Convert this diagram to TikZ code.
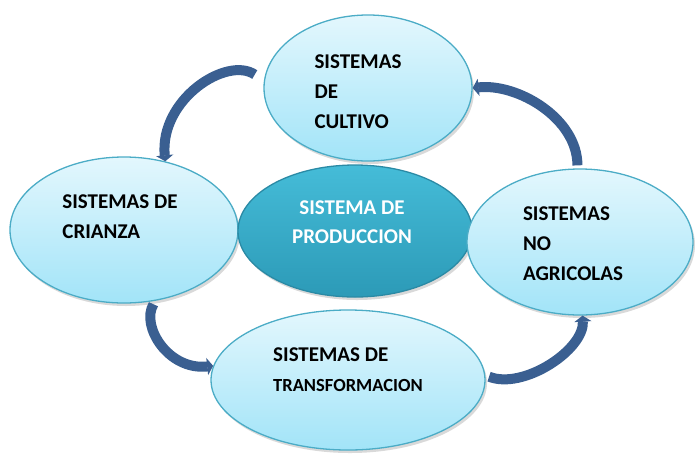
\documentclass[tikz,border=0pt]{standalone}
\usepackage{fontspec}
\setmainfont{Carlito}
\usetikzlibrary{shapes.geometric,arrows.meta,shadows}

\definecolor{cellfillA}{HTML}{E3F7FD}
\definecolor{cellfillB}{HTML}{A2E4F8}
\definecolor{celldraw}{HTML}{4BACC6}
\definecolor{hubfillA}{HTML}{45BCD8}
\definecolor{hubfillB}{HTML}{2C9AB7}
\definecolor{hubdraw}{HTML}{2A8AA5}
\definecolor{loopblue}{HTML}{3A5F91}

% shifted block of lines inside an ellipse
\newcommand{\lines}[4]{\hspace*{#1}\raisebox{#2}[0pt][0pt]{\begin{tabular}{@{}#3@{}}#4\end{tabular}}}

\begin{document}
\begin{tikzpicture}[x=1pt,y=-1pt,thick,
    sys node/.style={ellipse,draw=celldraw,line width=1.3pt,inner sep=0pt,
        top color=cellfillA,bottom color=cellfillB,
        drop shadow={shadow xshift=2pt,shadow yshift=-3pt,opacity=.3},
        font=\bfseries\fontsize{21}{30}\selectfont},
    hub node/.style={sys node,draw=hubdraw,top color=hubfillA,bottom color=hubfillB,
        text=white,font=\bfseries\fontsize{21}{29}\selectfont},
    loop/.style={draw=loopblue,line width=10pt,-{Triangle[width=17pt,length=6pt]}}]

    \useasboundingbox (0,0) rectangle (695,456);

    \node[sys node,minimum width=208pt,minimum height=146pt] (cultivo) at (368,88)
        {\lines{-20pt}{-10pt}{l}{SISTEMAS\\DE\\CULTIVO}};
    \node[sys node,minimum width=228pt,minimum height=146pt] (crianza) at (124,230)
        {\lines{-8pt}{7pt}{l}{SISTEMAS DE\\CRIANZA}};
    \node[hub node,minimum width=234pt,minimum height=132pt] (produccion) at (355,231)
        {\lines{-6pt}{3pt}{c}{SISTEMA DE\\PRODUCCION}};
    \node[sys node,minimum width=226pt,minimum height=146pt] (noagricola) at (580,242)
        {\lines{-14pt}{-8pt}{l}{SISTEMAS\\NO\\AGRICOLAS}};
    \node[sys node,minimum width=274pt,minimum height=140pt] (transform) at (348,380)
        {\lines{0pt}{4pt}{l}{SISTEMAS DE\\{\fontsize{18.5}{30}\selectfont TRANSFORMACION}}};

    % cycle of arrows
    \path[loop,shorten <=11pt] (cultivo.176) .. controls +(-37,-25) and +(-6,-62) .. (crianza.59);
    \path[loop,shorten <=4pt] (crianza.294) .. controls +(-15,25) and +(-45,5) .. (transform.174);
    \path[loop,shorten <=4pt] (transform.2) .. controls +(38,15) and +(2,34) .. (noagricola.272);
    \path[loop,shorten <=3pt] (noagricola.92) .. controls +(0,-50) and +(45,-5) .. (cultivo.east);

\end{tikzpicture}
\end{document}
